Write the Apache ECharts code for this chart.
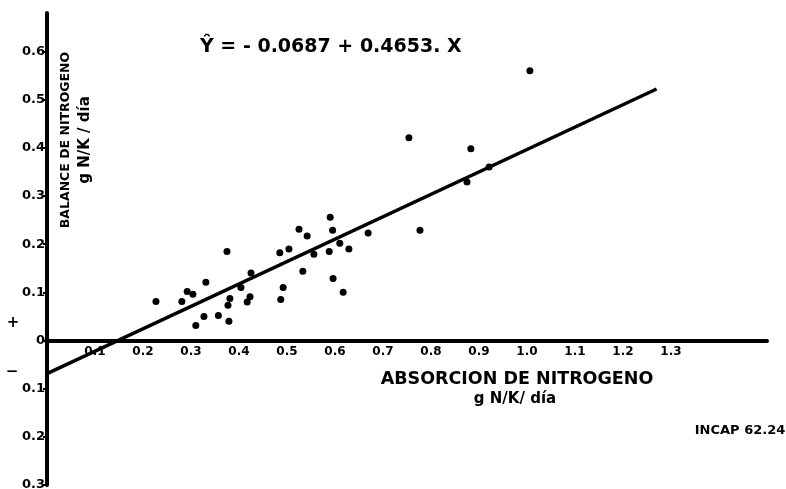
<!DOCTYPE html>
<html>
<head>
<meta charset="utf-8">
<script src="https://cdn.jsdelivr.net/npm/echarts@6/dist/echarts.min.js"></script>
<style>
  html, body { margin: 0; padding: 0; background: #fff; }
  #chart { width: 786px; height: 489px; }
</style>
</head>
<body>
<div id="chart"></div>
<script>
// absorcion (x) vs balance (y), g N/K/dia
const absorcion = [0.227, 0.281, 0.292, 0.304, 0.310, 0.327, 0.331, 0.357, 0.375, 0.379,
  0.377, 0.381, 0.404, 0.417, 0.423, 0.425, 0.485, 0.487, 0.492, 0.504,
  0.525, 0.533, 0.542, 0.556, 0.588, 0.590, 0.595, 0.596, 0.610, 0.617,
  0.629, 0.669, 0.754, 0.777, 0.875, 0.883, 0.921, 1.006];
const balance = [0.081, 0.081, 0.102, 0.096, 0.031, 0.050, 0.121, 0.052, 0.185, 0.040,
  0.073, 0.087, 0.110, 0.080, 0.091, 0.140, 0.182, 0.085, 0.110, 0.190,
  0.231, 0.144, 0.217, 0.179, 0.185, 0.256, 0.229, 0.129, 0.202, 0.100,
  0.190, 0.223, 0.421, 0.229, 0.329, 0.398, 0.360, 0.560];

// fitted line Y = a + b X
const intercept = -0.0687;
const slope = 0.4653;
const lineRange = [0, 1.27];

const xTickMax = 1.3;
const yMin = -0.3;
const yMax = 0.68;

const chart = echarts.init(document.getElementById('chart'));

const points = absorcion.map((x, i) => [x, balance[i]]);
const fitLine = lineRange.map(x => [x, intercept + slope * x]);

const font = 'DejaVu Sans';
const gridTop = 13, gridBottom = 4;
const plotH = 489 - gridTop - gridBottom;
// move the x axis (line + labels) up to y = 0
const xAxisOffset = -plotH * (0 - yMin) / (yMax - yMin);

chart.setOption({
  animation: false,
  grid: { left: 47, right: 19, top: gridTop, bottom: gridBottom, outerBoundsMode: 'none' },
  title: {
    text: 'Ŷ = - 0.0687 + 0.4653. X',
    left: 195,
    top: 33,
    textStyle: { fontFamily: font, fontSize: 19, fontWeight: 'bold', color: '#000' }
  },
  xAxis: {
    type: 'value',
    min: 0,
    max: 1.5,
    interval: 0.1,
    offset: xAxisOffset,
    splitLine: { show: false },
    axisLine: { onZero: false, lineStyle: { color: '#000', width: 4 } },
    axisTick: { show: false },
    axisLabel: {
      color: '#000',
      fontFamily: font,
      fontWeight: 'bold',
      fontSize: 12,
      margin: 5,
      formatter: v => (v > 0.001 && v <= xTickMax + 0.001) ? v.toFixed(1) : ''
    }
  },
  yAxis: {
    type: 'value',
    min: yMin,
    max: yMax,
    interval: 0.1,
    splitLine: { show: false },
    axisLine: { onZero: false, lineStyle: { color: '#000', width: 4 } },
    axisTick: { show: true, length: 4, lineStyle: { color: '#000', width: 2 } },
    axisLabel: {
      color: '#000',
      fontFamily: font,
      fontWeight: 'bold',
      fontSize: 13,
      margin: 2,
      showMaxLabel: false,
      formatter: v => {
        if (Math.abs(v) < 0.001) return '0';
        if (v > 0.65) return '';
        return Math.abs(v).toFixed(1);
      }
    }
  },
  series: [
    {
      type: 'scatter',
      data: points,
      symbol: 'circle',
      symbolSize: 7,
      itemStyle: { color: '#000', opacity: 1 }
    },
    {
      type: 'line',
      data: fitLine,
      symbol: 'none',
      lineStyle: { color: '#000', width: 3.5 }
    }
  ],
  graphic: [
    {
      type: 'text', x: 517, y: 379,
      style: { text: 'ABSORCION DE NITROGENO', fill: '#000', font: 'bold 17.5px "DejaVu Sans"', align: 'center', verticalAlign: 'middle' }
    },
    {
      type: 'text', x: 515, y: 399,
      style: { text: 'g N/K/ día', fill: '#000', font: 'bold 15px "DejaVu Sans"', align: 'center', verticalAlign: 'middle' }
    },
    {
      type: 'text', x: 66, y: 140, rotation: Math.PI / 2,
      style: { text: 'BALANCE DE NITROGENO', fill: '#000', font: 'bold 12.5px "DejaVu Sans"', align: 'center', verticalAlign: 'middle' }
    },
    {
      type: 'text', x: 85, y: 140, rotation: Math.PI / 2,
      style: { text: 'g N/K / día', fill: '#000', font: 'bold 15px "DejaVu Sans"', align: 'center', verticalAlign: 'middle' }
    },
    {
      type: 'text', x: 740, y: 431,
      style: { text: 'INCAP 62.24', fill: '#000', font: 'bold 13px "DejaVu Sans"', align: 'center', verticalAlign: 'middle' }
    },
    {
      type: 'text', x: 13, y: 323,
      style: { text: '+', fill: '#000', font: 'bold 15px "DejaVu Sans"', align: 'center', verticalAlign: 'middle' }
    },
    {
      type: 'text', x: 12, y: 372,
      style: { text: '−', fill: '#000', font: 'bold 15px "DejaVu Sans"', align: 'center', verticalAlign: 'middle' }
    }
  ]
});
</script>
</body>
</html>
